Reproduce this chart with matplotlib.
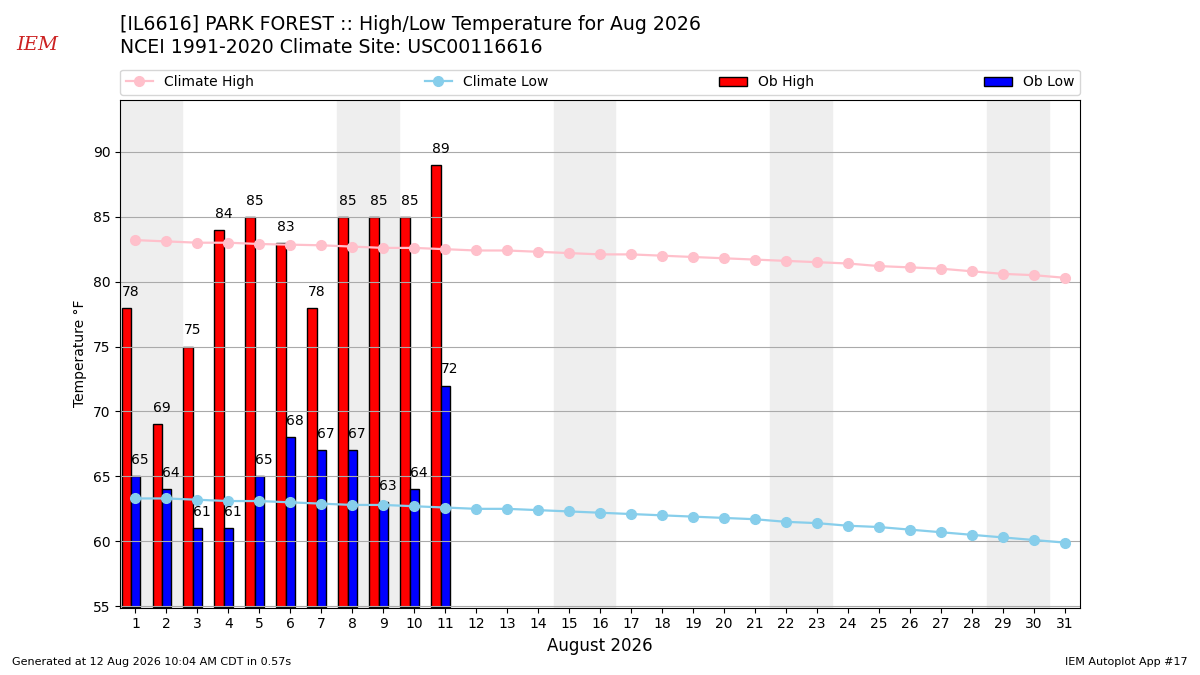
import matplotlib
matplotlib.use('agg')
import matplotlib.pyplot as plt
import numpy as np

days = np.arange(1, 32)
climate_high = [83.2, 83.1, 83.0, 83.0, 82.9, 82.85, 82.8, 82.7, 82.6, 82.6,
                82.5, 82.4, 82.4, 82.3, 82.2, 82.1, 82.1, 82.0, 81.9, 81.8,
                81.7, 81.6, 81.5, 81.4, 81.2, 81.1, 81.0, 80.8, 80.6, 80.5,
                80.3]
climate_low = [63.3, 63.3, 63.2, 63.1, 63.1, 63.0, 62.9, 62.8, 62.8, 62.7,
               62.6, 62.5, 62.5, 62.4, 62.3, 62.2, 62.1, 62.0, 61.9, 61.8,
               61.7, 61.5, 61.4, 61.2, 61.1, 60.9, 60.7, 60.5, 60.3, 60.1,
               59.9]
ob_days = np.arange(1, 12)
ob_high = [78, 69, 75, 84, 85, 83, 78, 85, 85, 85, 89]
ob_low = [65, 64, 61, 61, 65, 68, 67, 67, 63, 64, 72]
weekends = [1, 8, 15, 22, 29]

fig = plt.figure(figsize=(12, 6.75), dpi=100)
ax = fig.add_axes([0.1, 0.1, 0.8, 0.752])

for d in weekends:
    ax.axvspan(d - 0.5, d + 1.5, color='#eeeeee', zorder=0)

bottom = 54.9
ax.bar(ob_days - 0.3, np.array(ob_high) - bottom, width=0.3, bottom=bottom,
       color='r', edgecolor='k', label='Ob High', zorder=1)
ax.bar(ob_days, np.array(ob_low) - bottom, width=0.3, bottom=bottom,
       color='b', edgecolor='k', label='Ob Low', zorder=1)
for d, hi, lo in zip(ob_days, ob_high, ob_low):
    ax.text(d - 0.15, hi + 0.7, f'{hi}', ha='center', va='bottom',
            fontsize=10, zorder=5)
    ax.text(d + 0.15, lo + 0.7, f'{lo}', ha='center', va='bottom',
            fontsize=10, zorder=5)

ax.plot(days, climate_high, 'o-', color='pink', markersize=7, lw=1.6,
        label='Climate High', zorder=3)
ax.plot(days, climate_low, 'o-', color='skyblue', markersize=7, lw=1.6,
        label='Climate Low', zorder=3)

ax.set_xlim(0.5, 31.5)
ax.set_ylim(bottom, 94)
ax.set_xticks(days)
ax.set_yticks(range(55, 95, 5))
ax.yaxis.grid(True, color='#aaaaaa')
ax.set_ylabel('Temperature °F')
ax.set_xlabel('August 2026', fontsize=12)

ax.legend(loc='lower left', bbox_to_anchor=(0, 1.01, 1, 0.05),
          mode='expand', ncol=4, borderaxespad=0)

fig.text(0.1, 0.964, '[IL6616] PARK FOREST :: High/Low Temperature for Aug 2026',
         fontsize=13.6, va='center')
fig.text(0.1, 0.929, 'NCEI 1991-2020 Climate Site: USC00116616',
         fontsize=13.6, va='center')
fig.text(0.031, 0.933, 'IEM', color='#cc2222', fontsize=14, style='italic',
         family='serif', ha='center', va='center')
fig.text(0.01, 0.015, 'Generated at 12 Aug 2026 10:04 AM CDT in 0.57s',
         fontsize=8)
fig.text(0.99, 0.015, 'IEM Autoplot App #17', fontsize=8, ha='right')

fig.savefig('out.png')
